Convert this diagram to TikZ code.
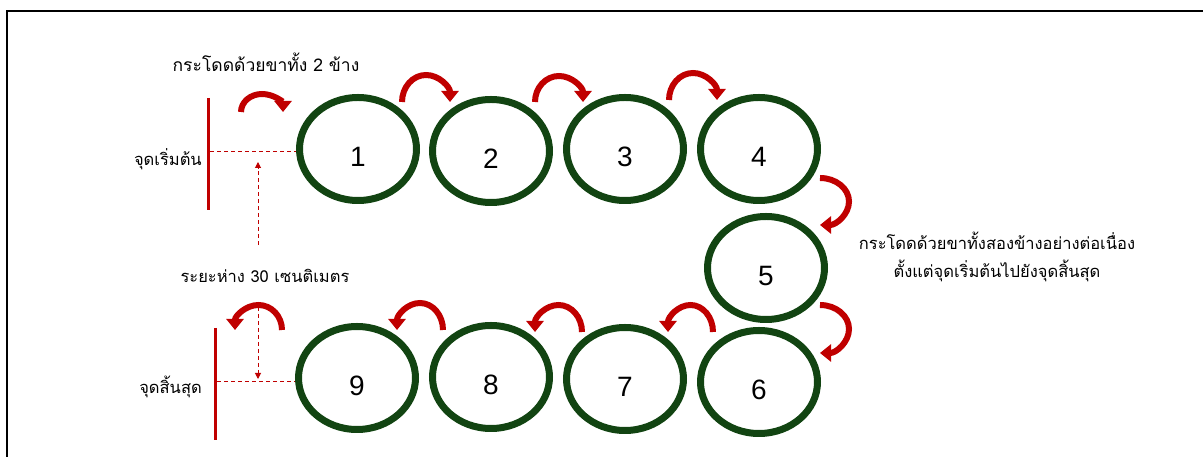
\documentclass[tikz,border=0pt]{standalone}
\usepackage{fontspec}
\setmainfont{Liberation Sans}
\newfontfamily\thaifont[Script=Thai]{Loma}
\usetikzlibrary{shapes.geometric,arrows.meta}
\definecolor{ringgreen}{RGB}{18,68,18}
\definecolor{jumpred}{RGB}{192,0,0}
\tikzset{
  ring/.style={ellipse, draw=ringgreen, line width=7pt, minimum width=117pt,
    minimum height=103pt, inner sep=0pt,
    label={[font=\fontsize{28}{30}\selectfont, yshift=-8pt]center:#1}},
  jump/.style={draw=jumpred, line width=6pt,
    -{Triangle[width=17pt,length=11pt]}},
  mark line/.style={draw=jumpred, line width=3pt},
  guide/.style={draw=jumpred, line width=1pt, dash pattern=on 4pt off 3pt},
  guide arrow/.style={guide, -{Triangle[width=6pt,length=6pt]}},
  thaitext/.style={font=\thaifont\fontsize{16.5}{28.5}\selectfont, inner sep=0pt}
}
\begin{document}
\begin{tikzpicture}[x=1pt,y=1pt]
\useasboundingbox (0,0) rectangle (1203,457);
% frame
\draw[line width=2.5pt] (7,0) -- (7,446) -- (1203,446);

% stepping rings
\node[ring=1] (e1) at (358,308) {};
\node[ring=2] (e2) at (491,306) {};
\node[ring=3] (e3) at (625,308) {};
\node[ring=4] (e4) at (759,308) {};
\node[ring=5] (e5) at (766,189) {};
\node[ring=6] (e6) at (759,75) {};
\node[ring=7] (e7) at (625,78) {};
\node[ring=8] (e8) at (491,80) {};
\node[ring=9] (e9) at (357,79) {};

% start and finish lines
\coordinate (st) at (208,359);
\coordinate (sb) at (208,247);
\coordinate (ft) at (215,129);
\coordinate (fb) at (215,17);
\draw[mark line] (st) -- (sb);
\draw[mark line] (ft) -- (fb);
\coordinate (sm) at (210,305);
\coordinate (fm) at (217,75);
\draw[guide] (sm) -- (sm -| e1.west);
\draw[guide] (fm) -- (fm -| e9.west);

% distance markers
\coordinate (d1a) at (258,212);
\coordinate (d1b) at (258,295);
\coordinate (d2a) at (258,150);
\coordinate (d2b) at (258,78);
\draw[guide arrow] (d1a) -- (d1b);
\draw[guide arrow] (d2a) -- (d2b);

% jumps along the top row
\coordinate (j0) at (241,345);
\coordinate (j1) at (402,355);
\coordinate (j2) at (535,355);
\coordinate (j3) at (669,357);
\draw[jump] (j0) arc[start angle=180, end angle=0, x radius=21, y radius=18];
\draw[jump] (j1) arc[start angle=180, end angle=0, x radius=24, y radius=27];
\draw[jump] (j2) arc[start angle=180, end angle=0, x radius=24, y radius=26];
\draw[jump] (j3) arc[start angle=180, end angle=0, x radius=24, y radius=27];

% jumps down the right side
\coordinate (j4) at (820,279);
\coordinate (j5) at (820,152);
\draw[jump] (j4) arc[start angle=90, end angle=-90, x radius=29, y radius=23.5];
\draw[jump] (j5) arc[start angle=90, end angle=-90, x radius=29, y radius=24];

% jumps along the bottom row
\coordinate (j6) at (713,125);
\coordinate (j7) at (582,125);
\coordinate (j8) at (443,127);
\coordinate (j9) at (282,127);
\draw[jump] (j6) arc[start angle=0, end angle=180, x radius=22.5, y radius=27];
\draw[jump] (j7) arc[start angle=0, end angle=180, x radius=23.5, y radius=27];
\draw[jump] (j8) arc[start angle=0, end angle=180, x radius=23, y radius=27];
\draw[jump] (j9) arc[start angle=0, end angle=180, x radius=23.5, y radius=25];

% labels
\node[thaitext, font=\thaifont\fontsize{17.5}{20}\selectfont] (l1) at (266,395) {กระโดดด้วยขาทั้ง 2 ข้าง};
\node[thaitext, anchor=east] (l2) at (202,298) {จุดเริ่มต้น};
\node[thaitext] (l3) at (265,181) {ระยะห่าง 30 เซนติเมตร};
\node[thaitext, anchor=east] (l4) at (202,70) {จุดสิ้นสุด};
\node[thaitext, align=center] (l5) at (997,200)
  {กระโดดด้วยขาทั้งสองข้างอย่างต่อเนื่อง\\ตั้งแต่จุดเริ่มต้นไปยังจุดสิ้นสุด};
\end{tikzpicture}
\end{document}
